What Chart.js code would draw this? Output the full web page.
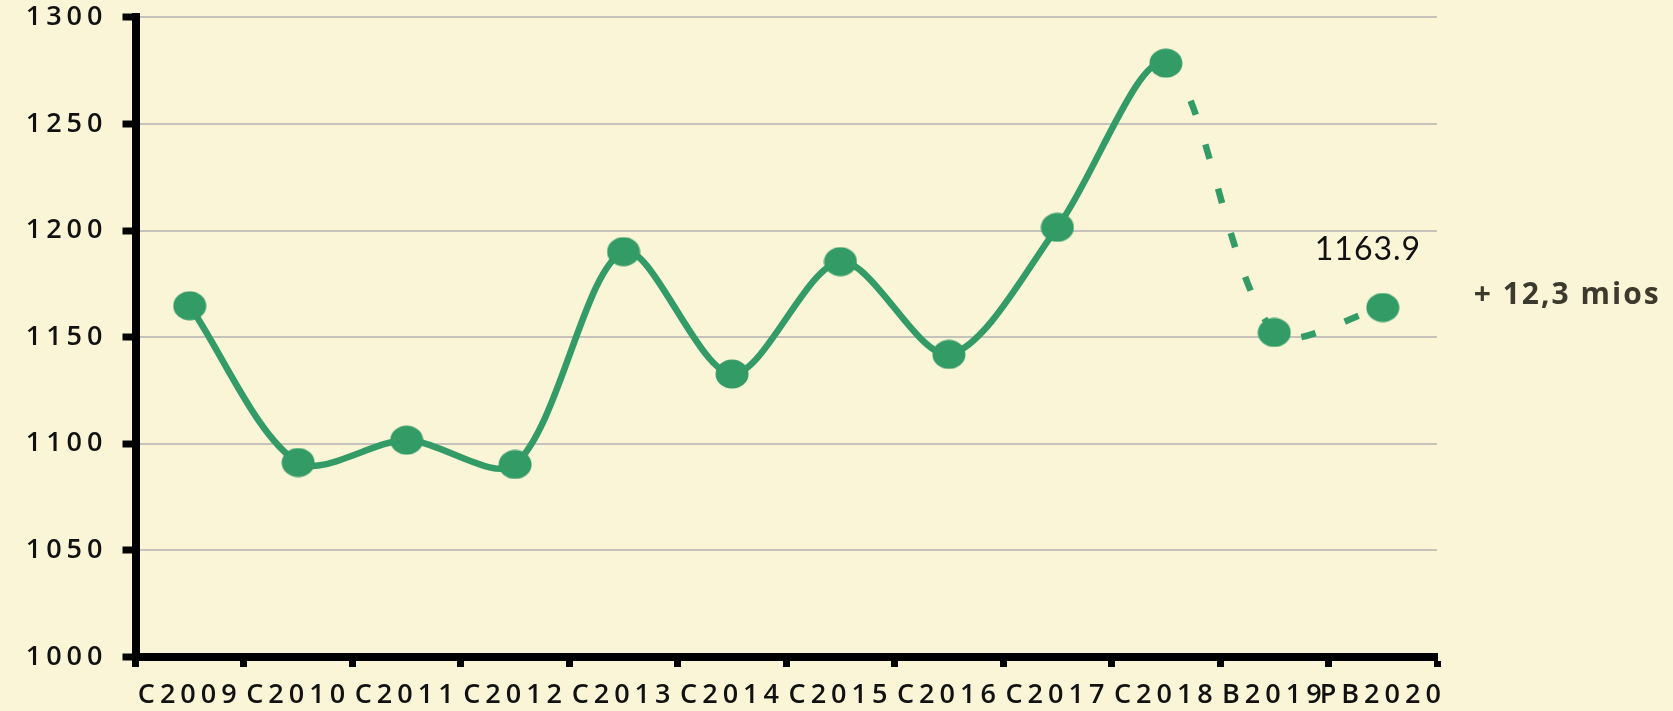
<!DOCTYPE html>
<html lang="es">
<head>
<meta charset="utf-8">
<title>Evolución 2009-2020</title>
<script src="https://cdn.jsdelivr.net/npm/chart.js@4.4.1/dist/chart.umd.min.js"></script>
<style>
  html, body { margin: 0; padding: 0; background: #faf5d7; }
  #wrap { width: 1673px; height: 711px; position: relative; }
</style>
</head>
<body>
<div id="wrap"><canvas id="chart"></canvas></div>
<script>
// --------- Data ----------
const categories = ['C2009', 'C2010', 'C2011', 'C2012', 'C2013', 'C2014',
                    'C2015', 'C2016', 'C2017', 'C2018', 'B2019', 'PB2020'];
const values     = [1164.7, 1091.2, 1101.7, 1090.3, 1190.1, 1132.7,
                    1185.4, 1141.9, 1201.5, 1278.5, 1152.2, 1163.9];
const yTicks     = [1000, 1050, 1100, 1150, 1200, 1250, 1300];
const growthNote = '+ 12,3 mios';

// --------- Style ----------
const GREEN = '#339b66';
const FIRST_FORECAST = 9;   // segments from c2018 onwards are dashed

// slightly wide marker, like the original
const dot = document.createElement('canvas');
dot.width = 34;
dot.height = 30;
const dctx = dot.getContext('2d');
dctx.fillStyle = GREEN;
dctx.beginPath();
dctx.ellipse(17, 15, 16.5, 14.5, 0, 0, Math.PI * 2);
dctx.fill();

Chart.defaults.font.family = '"Open Sans", Lato, sans-serif';
Chart.defaults.color = '#111';

// wide tracking for the axis labels
const spacing = {
  id: 'spacing',
  beforeLayout(chart) { chart.ctx.letterSpacing = '5px'; },
  beforeDraw(chart)   { chart.ctx.letterSpacing = '5px'; }
};

// value label on the last point + note on the right
const notes = {
  id: 'notes',
  afterDatasetsDraw(chart) {
    const ctx = chart.ctx;
    const last = values.length - 1;
    const pt = chart.getDatasetMeta(0).data[last];
    ctx.save();
    ctx.textAlign = 'left';
    ctx.textBaseline = 'alphabetic';
    ctx.letterSpacing = '1px';
    ctx.fillStyle = '#111';
    ctx.font = '32px Lato';
    ctx.fillText(String(values[last]), pt.x - 68, pt.y - 48);
    ctx.letterSpacing = '2px';
    ctx.fillStyle = '#3c3a2d';
    ctx.font = 'bold 30px "Open Sans"';
    ctx.fillText(growthNote, pt.x + 91, pt.y - 4);
    ctx.restore();
  }
};

const ctx = document.getElementById('chart').getContext('2d');
new Chart(ctx, {
  type: 'line',
  data: {
    labels: categories,
    datasets: [{
      data: values,
      borderColor: GREEN,
      borderWidth: 6.5,
      tension: 0.3,
      pointStyle: dot,
      pointRadius: 15,
      pointBackgroundColor: GREEN,
      pointBorderWidth: 0,
      segment: {
        borderDash: c => c.p0DataIndex >= FIRST_FORECAST ? [15, 31] : undefined
      }
    }]
  },
  options: {
    responsive: true,
    maintainAspectRatio: false,
    animation: false,
    events: [],
    layout: { padding: { top: 17.3, right: 236, bottom: 0, left: 0 } },
    plugins: { legend: { display: false }, tooltip: { enabled: false } },
    scales: {
      x: {
        type: 'category',
        offset: true,
        afterFit: s => { s.height = 54; },
        grid: {
          offset: true,
          drawOnChartArea: false,
          tickLength: 10,
          tickWidth: 7,
          tickColor: '#000'
        },
        border: { color: '#000', width: 8 },
        ticks: {
          autoSkip: false,
          maxRotation: 0,
          minRotation: 0,
          padding: 12,
          color: '#111',
          font: { size: 27, weight: 600 }
        }
      },
      y: {
        min: yTicks[0],
        max: yTicks[yTicks.length - 1],
        afterFit: s => { s.width = 135.5; s.paddingTop = 0; s.paddingBottom = 0; },
        afterBuildTicks: s => { s.ticks = yTicks.map(v => ({ value: v })); },
        grid: {
          color: '#c4c2bb',
          lineWidth: 2,
          tickLength: 13,
          tickWidth: 7,
          tickColor: '#000'
        },
        border: { color: '#000', width: 8 },
        ticks: {
          padding: 15,
          color: '#111',
          font: { size: 27, weight: 600 },
          callback: v => String(v)
        }
      }
    }
  },
  plugins: [spacing, notes]
});
</script>
</body>
</html>
